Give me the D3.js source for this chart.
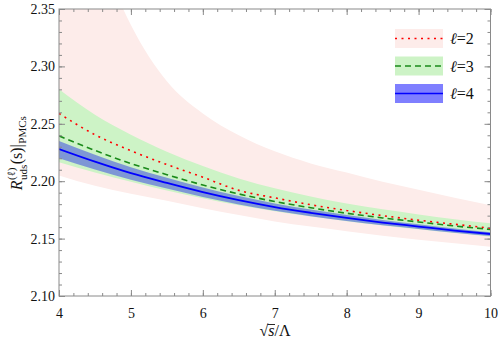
<!DOCTYPE html>
<html>
<head>
<meta charset="utf-8">
<script src="https://cdn.jsdelivr.net/npm/d3@7"></script>
<style>
  body { margin: 0; background: #fff; }
  svg { display: block; }
  svg text { font-family: "Liberation Serif", "Times New Roman", "DejaVu Serif", serif !important; }
</style>
</head>
<body>
<svg id="chart" width="498" height="348"></svg>
<script>
// sqrt(s)/Lambda sample points
const xs = [4, 4.5, 5, 5.5, 6, 6.5, 7, 7.5, 8, 8.5, 9, 9.5, 10];

// l=2 (red dotted) central curve and band
const l2 = [2.259, 2.2405, 2.2265, 2.2145, 2.2035, 2.192, 2.1855, 2.1795, 2.1745, 2.170, 2.166, 2.1625, 2.159];
const l2Upper = [2.50, 2.41, 2.336, 2.287, 2.259, 2.240, 2.226, 2.2155, 2.2075, 2.1995, 2.1925, 2.1855, 2.179];
const l2Lower = [2.205, 2.196, 2.189, 2.183, 2.1765, 2.1705, 2.165, 2.1605, 2.1565, 2.1525, 2.149, 2.146, 2.143];

// l=3 (green dashed)
const l3 = [2.2395, 2.2268, 2.2154, 2.2057, 2.1967, 2.1889, 2.1823, 2.1769, 2.1721, 2.168, 2.1645, 2.161, 2.158];
const l3Upper = [2.280, 2.2578, 2.2404, 2.2257, 2.2132, 2.2024, 2.1938, 2.1867, 2.1806, 2.1755, 2.1711, 2.1669, 2.1633];
const l3Lower = [2.2165, 2.2075, 2.1995, 2.192, 2.1852, 2.179, 2.1738, 2.1692, 2.1652, 2.1615, 2.1582, 2.1548, 2.1517];

// l=4 (blue solid)
const l4 = [2.228, 2.217, 2.207, 2.1985, 2.1905, 2.1835, 2.1775, 2.1725, 2.168, 2.164, 2.1605, 2.157, 2.154];
const l4Upper = [2.235, 2.223, 2.2122, 2.2031, 2.1945, 2.187, 2.1806, 2.1753, 2.1705, 2.1662, 2.1625, 2.1588, 2.1556];
const l4Lower = [2.220, 2.2103, 2.2013, 2.1936, 2.1862, 2.1797, 2.1742, 2.1695, 2.1653, 2.1616, 2.1584, 2.1551, 2.1523];

const xTicks = [4, 5, 6, 7, 8, 9, 10];
const yTicks = [2.10, 2.15, 2.20, 2.25, 2.30, 2.35];
const legendLabels = ["\u2113=2", "\u2113=3", "\u2113=4"];

const svg = d3.select("#chart");
const plotLeft = 59, plotRight = 490.5, plotTop = 9, plotBottom = 296;

const x = d3.scaleLinear().domain([4, 10]).range([plotLeft, plotRight]);
const y = d3.scaleLinear().domain([2.10, 2.35]).range([plotBottom, plotTop]);

svg.append("defs").append("clipPath").attr("id", "plotClip")
  .append("rect")
  .attr("x", plotLeft).attr("y", plotTop)
  .attr("width", plotRight - plotLeft).attr("height", plotBottom - plotTop);

const plot = svg.append("g").attr("clip-path", "url(#plotClip)");

function band(lo, hi) {
  return d3.area()
    .x((d, i) => x(xs[i]))
    .y0((d, i) => y(lo[i]))
    .y1((d, i) => y(hi[i]))
    .curve(d3.curveMonotoneX)(xs);
}
function curve(vals) {
  return d3.line()
    .x((d, i) => x(xs[i]))
    .y((d, i) => y(vals[i]))
    .curve(d3.curveMonotoneX)(xs);
}

const pink = "#fdecea", green = "#cdf3c6", blueBand = "rgba(30,40,230,0.45)";

plot.append("path").attr("d", band(l2Lower, l2Upper)).attr("fill", pink);
plot.append("path").attr("d", band(l3Lower, l3Upper)).attr("fill", green);
plot.append("path").attr("d", band(l4Lower, l4Upper)).attr("fill", blueBand);

plot.append("path").attr("d", curve(l4)).attr("fill", "none")
  .attr("stroke", "#0000ff").attr("stroke-width", 1.8);
plot.append("path").attr("d", curve(l3)).attr("fill", "none")
  .attr("stroke", "#1a8a1a").attr("stroke-width", 1.6).attr("stroke-dasharray", "6,4");
plot.append("path").attr("d", curve(l2)).attr("fill", "none")
  .attr("stroke", "#ff0000").attr("stroke-width", 1.6).attr("stroke-dasharray", "2,4.5");

// frame + ticks (inward, on all sides)
const frameColor = "#8a8a8a";
const xMinor = d3.range(4, 10.001, 0.2);
const yMinor = d3.range(2.10, 2.3501, 0.01);

function styleAxis(g) {
  g.attr("font-family", null).attr("font-size", null);
  g.select(".domain").remove();
  g.selectAll(".tick line").attr("stroke", frameColor);
  g.selectAll(".tick text").attr("fill", "#111").style("font-size", "14px");
}

svg.append("g").attr("transform", `translate(0,${plotBottom})`)
  .call(d3.axisBottom(x).tickValues(xMinor).tickSize(-3).tickFormat("")).call(styleAxis);
svg.append("g").attr("transform", `translate(0,${plotBottom})`)
  .call(d3.axisBottom(x).tickValues(xTicks).tickSize(-6).tickPadding(12).tickFormat(d3.format("d"))).call(styleAxis);
svg.append("g").attr("transform", `translate(0,${plotTop})`)
  .call(d3.axisTop(x).tickValues(xMinor).tickSize(-3).tickFormat("")).call(styleAxis);
svg.append("g").attr("transform", `translate(0,${plotTop})`)
  .call(d3.axisTop(x).tickValues(xTicks).tickSize(-6).tickFormat("")).call(styleAxis);

svg.append("g").attr("transform", `translate(${plotLeft},0)`)
  .call(d3.axisLeft(y).tickValues(yMinor).tickSize(-3).tickFormat("")).call(styleAxis);
svg.append("g").attr("transform", `translate(${plotLeft},0)`)
  .call(d3.axisLeft(y).tickValues(yTicks).tickSize(-6).tickPadding(4).tickFormat(d3.format(".2f"))).call(styleAxis);
svg.append("g").attr("transform", `translate(${plotRight},0)`)
  .call(d3.axisRight(y).tickValues(yMinor).tickSize(-3).tickFormat("")).call(styleAxis);
svg.append("g").attr("transform", `translate(${plotRight},0)`)
  .call(d3.axisRight(y).tickValues(yTicks).tickSize(-6).tickFormat("")).call(styleAxis);

svg.append("rect")
  .attr("x", plotLeft).attr("y", plotTop)
  .attr("width", plotRight - plotLeft).attr("height", plotBottom - plotTop)
  .attr("fill", "none").attr("stroke", frameColor).attr("stroke-width", 1);

// x axis title: sqrt(s)/Lambda, overline drawn over the s
const xt = svg.append("text")
  .attr("x", 275).attr("y", 336)
  .attr("text-anchor", "middle")
  .style("font-size", "16px").attr("fill", "#111");
xt.append("tspan").text("\u221A");
xt.append("tspan").attr("font-style", "italic").text("s");
xt.append("tspan").text("/\u039B");
{
  const node = xt.node();
  const rootExt = node.getExtentOfChar(0);
  const sExt = node.getExtentOfChar(1);
  svg.append("line")
    .attr("x1", rootExt.x + rootExt.width - 0.8).attr("x2", sExt.x + sExt.width + 0.5)
    .attr("y1", rootExt.y + 2.5).attr("y2", rootExt.y + 2.5)
    .attr("stroke", "#111").attr("stroke-width", 0.9);
}

// y axis title, laid out piece by piece along the rotated baseline
const yTitle = svg.append("g").attr("transform", "translate(22,0) rotate(-90)");
const pieces = [
  { t: "R", size: 16, italic: true, dy: 0 },
  { t: "(\u2113)", size: 11, italic: false, dy: -7, stackWith: "uds" },
  { t: "(s)|", size: 16, italic: false, dy: 0 },
  { t: "PMCs", size: 11, italic: false, dy: 4 }
];
let cursor = 0;
const made = [];
pieces.forEach(p => {
  const t = yTitle.append("text").attr("x", cursor).attr("y", p.dy)
    .style("font-size", p.size + "px").attr("fill", "#111")
    .attr("font-style", p.italic ? "italic" : null).text(p.t);
  let w = t.node().getComputedTextLength();
  if (p.stackWith) {
    const s = yTitle.append("text").attr("x", cursor).attr("y", 5)
      .style("font-size", p.size + "px").attr("fill", "#111").text(p.stackWith);
    made.push(s);
    w = Math.max(w, s.node().getComputedTextLength());
  }
  made.push(t);
  cursor += w + 0.5;
});
// centre the title on y = 153
yTitle.attr("transform", `translate(22,${153 + cursor / 2}) rotate(-90)`);

// legend
const legend = svg.append("g");
const legendFills = [pink, green, "rgba(0,0,255,0.5)"];
const legendStrokes = ["#ff0000", "#1a8a1a", "#0000ff"];
const legendDash = ["2,4.5", "6,4", null];
legendLabels.forEach((lab, i) => {
  const yy = 29 + i * 27.5;
  legend.append("rect").attr("x", 395).attr("y", yy).attr("width", 48).attr("height", 19)
    .attr("fill", legendFills[i]);
  legend.append("line").attr("x1", 395).attr("x2", 443).attr("y1", yy + 9.5).attr("y2", yy + 9.5)
    .attr("stroke", legendStrokes[i]).attr("stroke-width", 1.5)
    .attr("stroke-dasharray", legendDash[i]);
  const t = legend.append("text").attr("x", 450).attr("y", yy + 15)
    .style("font-size", "16px").attr("fill", "#111");
  t.append("tspan").attr("font-style", "italic").text(lab.slice(0, 1));
  t.append("tspan").text(lab.slice(1));
});
</script>
</body>
</html>
